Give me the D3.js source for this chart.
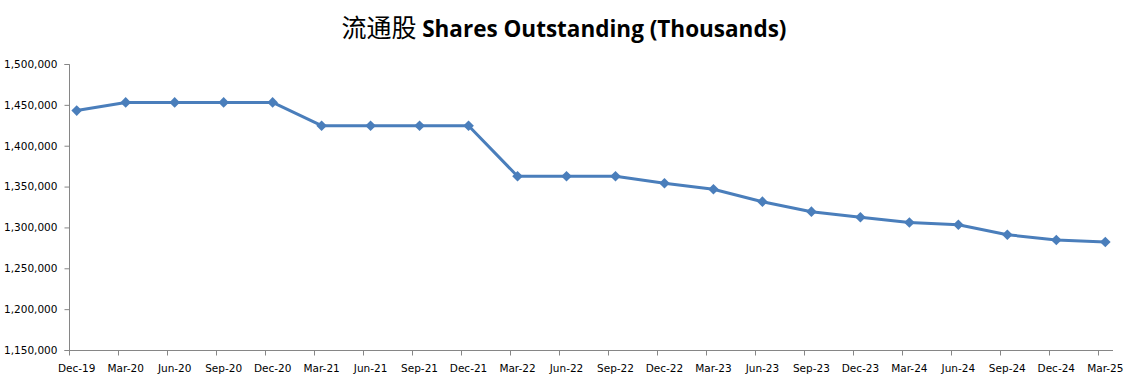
<!DOCTYPE html>
<html>
<head>
<meta charset="utf-8">
<script src="https://cdn.jsdelivr.net/npm/d3@7"></script>
<style>
  body { margin: 0; background: #fff; }
  svg { display: block; }
</style>
</head>
<body>
<div id="chart"></div>
<script>
// quarter labels on the x axis
var quarters = ["Dec-19","Mar-20","Jun-20","Sep-20","Dec-20","Mar-21","Jun-21","Sep-21","Dec-21",
                "Mar-22","Jun-22","Sep-22","Dec-22","Mar-23","Jun-23","Sep-23","Dec-23",
                "Mar-24","Jun-24","Sep-24","Dec-24","Mar-25"];

// shares outstanding, thousands
var shares = [1443000,1453000,1453000,1453000,1453000,1424500,1424500,1424500,1424500,
              1362600,1362600,1362600,1354000,1346700,1331500,1319300,1312400,
              1306000,1303300,1291100,1284600,1282200];

var yTicks = [1150000,1200000,1250000,1300000,1350000,1400000,1450000,1500000];

function init() {
    var w = 1133, h = 385;
    var axisColor = "#868686";
    var lineColor = "#4a7ebb";
    var font = "'DejaVu Sans', Verdana, sans-serif";

    var svg = d3.select("#chart").append("svg")
        .attr("width", w)
        .attr("height", h);

    var xScale = d3.scalePoint()
        .domain(quarters)
        .range([76.7, 1105.3]);

    var yScale = d3.scaleLinear()
        .domain([1150000, 1500000])
        .range([350, 64]);

    // title
    var title = svg.append("text")
        .attr("x", 564)
        .attr("y", 37)
        .attr("text-anchor", "middle")
        .attr("fill", "#000");
    title.append("tspan")
        .attr("font-family", "'Noto Sans CJK SC', sans-serif")
        .attr("font-size", 25)
        .text("流通股 ");
    title.append("tspan")
        .attr("font-family", "'Open Sans', 'Liberation Sans', sans-serif")
        .attr("font-weight", "bold")
        .attr("font-size", 22.5)
        .text("Shares Outstanding (Thousands)");

    // y axis
    var yAxis = d3.axisLeft(yScale)
        .tickValues(yTicks)
        .tickSize(5)
        .tickPadding(7)
        .tickFormat(d3.format(","));
    var gy = svg.append("g")
        .attr("transform", "translate(69.5,0)")
        .call(yAxis);
    gy.select(".domain").attr("stroke", axisColor).attr("d", "M-5,64.5H0V350.5H-5");
    gy.selectAll(".tick line").attr("stroke", axisColor);
    gy.selectAll(".tick text")
        .attr("fill", "#000")
        .attr("font-family", font)
        .attr("font-size", 10.5);

    // x axis: ticks sit a bit left of the points, like the original
    var gx = svg.append("g").attr("transform", "translate(0,350.5)");
    gx.append("line")
        .attr("x1", 69).attr("x2", 1113)
        .attr("stroke", axisColor);
    gx.selectAll("line.tk")
        .data(quarters)
        .enter()
        .append("line")
        .attr("class", "tk")
        .attr("x1", function(d) { return Math.round(xScale(d) - 7.7) + 0.5; })
        .attr("x2", function(d) { return Math.round(xScale(d) - 7.7) + 0.5; })
        .attr("y1", 0).attr("y2", 5)
        .attr("stroke", axisColor);
    gx.selectAll("text")
        .data(quarters)
        .enter()
        .append("text")
        .attr("x", function(d) { return xScale(d); })
        .attr("y", 21)
        .attr("text-anchor", "middle")
        .attr("font-family", font)
        .attr("font-size", 10.5)
        .attr("fill", "#000")
        .text(function(d) { return d; });

    // line
    var line = d3.line()
        .x(function(d, i) { return xScale(quarters[i]); })
        .y(function(d) { return yScale(d); });

    svg.append("path")
        .datum(shares)
        .attr("d", line)
        .attr("fill", "none")
        .attr("stroke", lineColor)
        .attr("stroke-width", 3)
        .attr("stroke-linejoin", "round");

    // diamond markers
    var diamond = d3.symbol().type(d3.symbolDiamond2).size(72);
    svg.selectAll("path.mk")
        .data(shares)
        .enter()
        .append("path")
        .attr("class", "mk")
        .attr("d", diamond)
        .attr("transform", function(d, i) {
            return "translate(" + xScale(quarters[i]) + "," + yScale(d) + ")";
        })
        .attr("fill", lineColor);
}

window.onload = init;
</script>
</body>
</html>
